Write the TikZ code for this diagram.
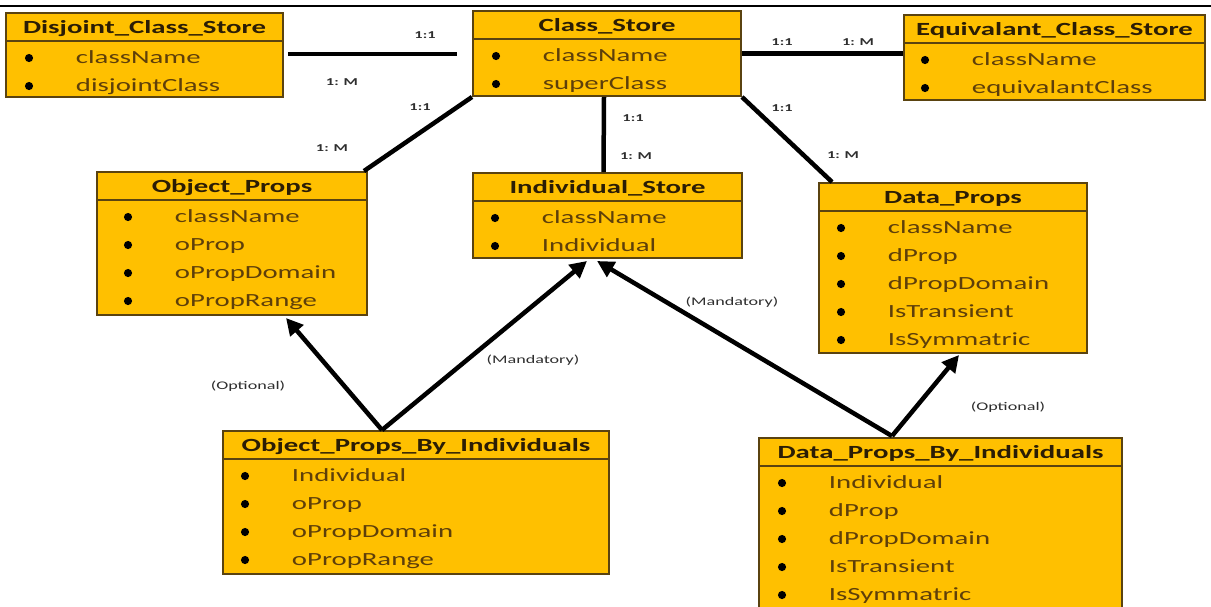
\documentclass[tikz,border=0pt]{standalone}
\usepackage{fontspec}
\setmainfont[FakeStretch=1.55]{Carlito}
\usetikzlibrary{arrows.meta,calc,fit}

\definecolor{boxfill}{HTML}{FFC000}
\definecolor{boxline}{HTML}{5A4310}
\definecolor{attrtext}{HTML}{5E3F0A}
\definecolor{titletext}{HTML}{2B1D05}
\definecolor{labeltext}{HTML}{2E2E2E}

\tikzset{
	tbl/.style={draw=boxline, fill=boxfill, line width=1.4pt, inner sep=0pt},
	ttl/.style={font=\bfseries\fontsize{13.2}{15}\selectfont, text=titletext, anchor=base},
	attr/.style={font=\fontsize{13.2}{15}\selectfont, text=attrtext, anchor=base west},
	card/.style={font=\bfseries\fontsize{7.5}{9}\selectfont, text=labeltext},
	note/.style={font=\fontsize{8.3}{10}\selectfont, text=labeltext},
	link/.style={line width=3.2pt},
	dep/.style={line width=3.2pt, -{Triangle[length=12pt,width=12pt]}}
}

% title row, divider and bullet list of one table
\newcommand{\tblbody}[4]{%
	\node[ttl] at ($(#1.north)+(0,21)$) {#2};
	\draw[boxline, line width=1.4pt] ($(#1.north west)+(0,28.5)$) -- ($(#1.north east)+(0,28.5)$);
	\foreach \attrname [count=\k] in {#4} {
		\fill ($(#1.north west)+(#3-42,18+28*\k)$) circle[radius=2.9pt];
		\node[attr] at ($(#1.north west)+(#3,23+28*\k)$) {\attrname};
	}}

\begin{document}
\begin{tikzpicture}[x=0.025cm, y=-0.025cm]
	\useasboundingbox (0,0) rectangle (1211,606);
	\draw[line width=1.5pt] (0,6) -- (1211,6);

	% tables
	\node[tbl, fit={(6,13) (283,97)}] (dcs) {};
	\tblbody{dcs}{Disjoint\_Class\_Store}{66}{className, disjointClass}

	\node[tbl, fit={(473,11) (741,96)}] (cs) {};
	\tblbody{cs}{Class\_Store}{66}{className, superClass}

	\node[tbl, fit={(904,15) (1205,100)}] (ecs) {};
	\tblbody{ecs}{Equivalant\_Class\_Store}{64}{className, equivalantClass}

	\node[tbl, fit={(97,172) (367,315)}] (op) {};
	\tblbody{op}{Object\_Props}{74}{className, oProp, oPropDomain, oPropRange}

	\node[tbl, fit={(473,173) (742,258)}] (is) {};
	\tblbody{is}{Individual\_Store}{65}{className, Individual}

	\node[tbl, fit={(819,183) (1087,353)}] (dp) {};
	\tblbody{dp}{Data\_Props}{65}{className, dProp, dPropDomain, IsTransient, IsSymmatric}

	\node[tbl, fit={(223,431) (609,574)}] (opbi) {};
	\tblbody{opbi}{Object\_Props\_By\_Individuals}{65}{Individual, oProp, oPropDomain, oPropRange}

	\node[tbl, fit={(759,438) (1122,612)}] (dpbi) {};
	\tblbody{dpbi}{Data\_Props\_By\_Individuals}{66}{Individual, dProp, dPropDomain, IsTransient, IsSymmatric}

	% relations of Class_Store
	\draw[link] ($(dcs.east)+(4,-1)$) -- ($(cs.west |- dcs.east)+(-15,-1)$);
	\draw[link] (cs.east) -- (cs.east -| ecs.west);
	\draw[link] (cs.south west) -- ($(op.north east)+(-4,0)$);
	\draw[link] ($(cs.south)+(-3,0)$) -- ($(is.north)+(-4,0)$);
	\draw[link] (cs.south east) -- ($(dp.north west)+(14,0)$);

	\node[card] at (425,35) {1:1};
	\node[card] at (342,82) {1: M};
	\node[card] at (420,107) {1:1};
	\node[card] at (332,148) {1: M};
	\node[card] at (782,42) {1:1};
	\node[card] at (858,42) {1: M};
	\node[card] at (633,118) {1:1};
	\node[card] at (636,156) {1: M};
	\node[card] at (782,108) {1:1};
	\node[card] at (843,155) {1: M};

	% dependencies
	\coordinate (opbitop) at ($(opbi.north west)+(160,0)$);
	\coordinate (dpbitop) at ($(dpbi.north west)+(134,-1)$);
	\draw[dep] (opbitop) -- ($(op.south west)+(190,2)$);
	\draw[dep] (opbitop) -- ($(is.south west)+(115,2)$);
	\draw[dep] (dpbitop) -- ($(is.south west)+(125,2)$);
	\draw[dep] (dpbitop) -- ($(dp.south west)+(141,1)$);

	\node[note] at (248,386) {(Optional)};
	\node[note] at (533,360) {(Mandatory)};
	\node[note] at (732,302) {(Mandatory)};
	\node[note] at (1008,407) {(Optional)};
\end{tikzpicture}
\end{document}
